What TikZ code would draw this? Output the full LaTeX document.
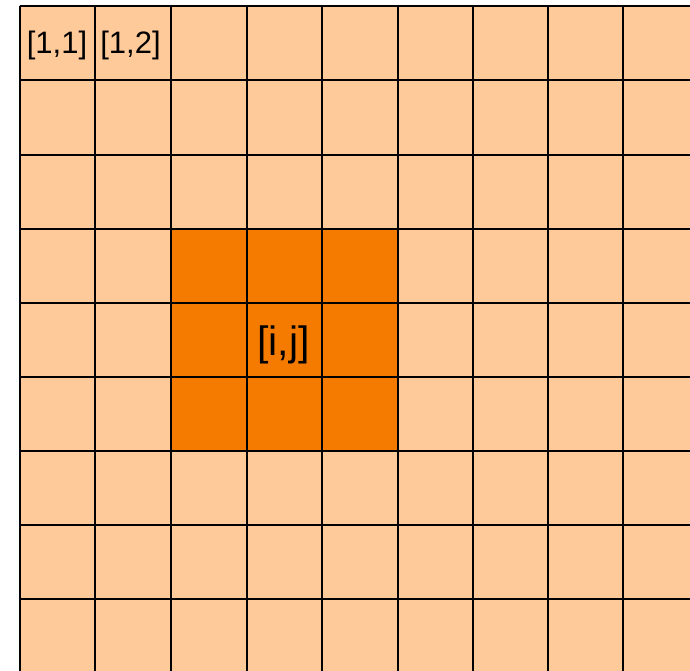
\documentclass[tikz,border=0pt]{standalone}
\usepackage{fontspec}
\setmainfont{Liberation Sans}
\definecolor{cellpeach}{HTML}{FFCA99}
\definecolor{cellorange}{HTML}{F57B00}
\begin{document}
\begin{tikzpicture}[x=1pt,y=-1pt,
  gridline/.style={draw=black,line width=2pt},
  lbl/.style={inner sep=0pt,font=\fontsize{31}{36}\selectfont},
  biglbl/.style={inner sep=0pt,font=\fontsize{41}{46}\selectfont}]
\useasboundingbox (0,0) rectangle (690,671);
\fill[white] (0,0) rectangle (690,671);
\fill[cellpeach] (19.5,6) rectangle (690,671);
\fill[cellorange] (171,229) rectangle (397.5,451);
\foreach \x in {19.5,95,171,246.5,322,397.5,472.5,548,623}
  \draw[gridline] (\x,6) -- (\x,675);
\foreach \y in {6,80,155,229,303,377,451,525,599}
  \draw[gridline] (19.5,\y) -- (695,\y);
\node[lbl] (c11) at (57,45) {[1,1]};
\node[lbl] (c12) at (130.5,45) {[1,2]};
\node[biglbl] (cij) at (283.5,345) {[i,j]};
\end{tikzpicture}
\end{document}
